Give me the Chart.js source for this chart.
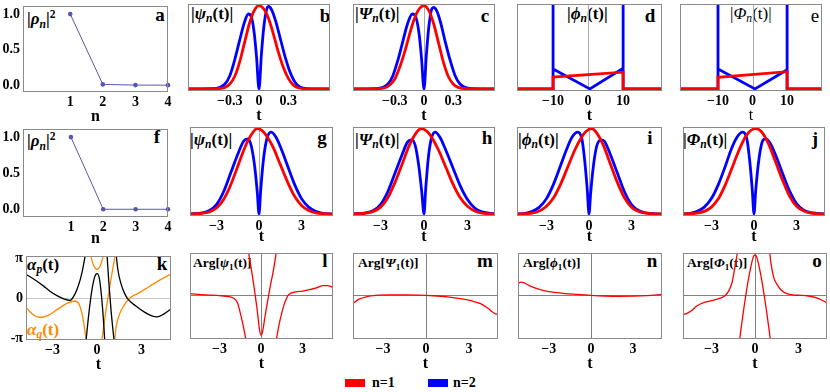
<!DOCTYPE html>
<html lang="en">
<head>
<meta charset="UTF-8">
<title>Mode populations, amplitudes and phases</title>
<script src="https://cdn.jsdelivr.net/npm/chart.js"></script>
<style>
  body { margin: 0; background: #fff; }
  #fig { position: relative; width: 830px; height: 392px; overflow: hidden; font-family: "Liberation Serif", serif; }
  #fig canvas { position: absolute; }
  .lab { position: absolute; font-weight: bold; font-size: 17px; line-height: 1; white-space: nowrap; color: #000; }
  .lab sub { font-size: 0.68em; vertical-align: -0.3em; }
  .lab sup { font-size: 0.68em; vertical-align: 0.55em; }
  .small { font-size: 13.5px; }
  .let { position: absolute; font-weight: bold; font-size: 19px; line-height: 1; transform: translate(-50%, -50%); }
  .thin { font-weight: normal; }
  .key { position: absolute; top: 379px; width: 20px; height: 8px; }
  .keytxt { position: absolute; top: 376px; font-weight: bold; font-size: 14px; line-height: 1; }
</style>
</head>
<body>
<div id="fig">
  <!-- panel titles -->
  <div class="lab" style="left:27px;top:9px">|<i>ρ</i><sub><i>n</i></sub>|<sup>2</sup></div>
  <div class="lab" style="left:191px;top:5px">|<i>ψ</i><sub><i>n</i></sub>(t)|</div>
  <div class="lab" style="left:355px;top:5px">|<i>Ψ</i><sub><i>n</i></sub>(t)|</div>
  <div class="lab" style="left:567px;top:5px">|<i>ϕ</i><sub><i>n</i></sub>(t)|</div>
  <div class="lab thin" style="left:730px;top:5px">|<i>Φ</i><sub><i>n</i></sub>(t)|</div>
  <div class="lab" style="left:27px;top:131px">|<i>ρ</i><sub><i>n</i></sub>|<sup>2</sup></div>
  <div class="lab" style="left:190px;top:131px">|<i>ψ</i><sub><i>n</i></sub>(t)|</div>
  <div class="lab" style="left:355px;top:131px">|<i>Ψ</i><sub><i>n</i></sub>(t)|</div>
  <div class="lab" style="left:518px;top:131px">|<i>ϕ</i><sub><i>n</i></sub>(t)|</div>
  <div class="lab" style="left:683px;top:131px">|<i>Φ</i><sub><i>n</i></sub>(t)|</div>
  <div class="lab" style="left:27px;top:256px"><i>α</i><sub><i>p</i></sub>(t)</div>
  <div class="lab" style="left:27px;top:321px;color:#ff8800"><i>α</i><sub><i>q</i></sub>(t)</div>
  <div class="lab small" style="left:193px;top:256px">Arg[<i>ψ</i><sub>1</sub>(t)]</div>
  <div class="lab small" style="left:358px;top:256px">Arg[<i>Ψ</i><sub>1</sub>(t)]</div>
  <div class="lab small" style="left:523px;top:256px">Arg[<i>ϕ</i><sub>1</sub>(t)]</div>
  <div class="lab small" style="left:687px;top:256px">Arg[<i>Φ</i><sub>1</sub>(t)]</div>

  <!-- panel letters -->
  <div class="let" style="left:160px;top:14px">a</div>
  <div class="let" style="left:325px;top:15px">b</div>
  <div class="let" style="left:485px;top:15px">c</div>
  <div class="let" style="left:650px;top:15px">d</div>
  <div class="let thin" style="left:815px;top:15px">e</div>
  <div class="let" style="left:157px;top:136px">f</div>
  <div class="let" style="left:322px;top:137px">g</div>
  <div class="let" style="left:487px;top:137px">h</div>
  <div class="let" style="left:650px;top:137px">i</div>
  <div class="let" style="left:815px;top:138px">j</div>
  <div class="let" style="left:162px;top:263px">k</div>
  <div class="let" style="left:325px;top:260px">l</div>
  <div class="let" style="left:485px;top:260px">m</div>
  <div class="let" style="left:652px;top:260px">n</div>
  <div class="let" style="left:817px;top:260px">o</div>

  <!-- legend -->
  <div class="key" style="left:345px;background:#ff0000"></div>
  <div class="keytxt" style="left:372px">n=1</div>
  <div class="key" style="left:428px;background:#0000ff"></div>
  <div class="keytxt" style="left:453px">n=2</div>
</div>

<script>
  // ---- data ----
  // populations |rho_n|^2
  var nLevels = [1, 2, 3, 4];
  var rhoA = [1.0, 0.012, 0.002, 0.001];
  var rhoF = [1.0, 0.0, 0.0, 0.0];

  // tick values
  var ticksN = [1, 2, 3, 4];
  var ticksRho = [0, 0.5, 1];
  var ticksNarrow = [-0.3, 0, 0.3];
  var ticksWide = [-10, 0, 10];
  var ticksT = [-3, 0, 3];
  var ticksPhase = [-Math.PI, 0, Math.PI];
  var phaseLabels = ['-π', '0', 'π'];

  // [t, value] pairs, null = break in the curve
  var psiB1 = [[-0.73,0],[-0.45,0.003],[-0.35,0.02],[-0.3,0.06],[-0.25,0.15],[-0.2,0.32],[-0.15,0.55],[-0.1,0.78],[-0.05,0.94],[0,1.0],[0.05,0.96],[0.1,0.84],[0.15,0.65],[0.2,0.44],[0.25,0.26],[0.3,0.13],[0.35,0.05],[0.4,0.015],[0.5,0.002],[0.73,0]];
  var psiB2 = [[-0.73,0],[-0.5,0.003],[-0.4,0.02],[-0.35,0.06],[-0.3,0.16],[-0.25,0.35],[-0.2,0.58],[-0.15,0.8],[-0.11,0.9],[-0.08,0.87],[-0.05,0.68],[-0.025,0.38],[0,0],[0.025,0.42],[0.05,0.75],[0.08,0.96],[0.1,0.99],[0.13,0.95],[0.17,0.82],[0.22,0.6],[0.27,0.38],[0.32,0.2],[0.37,0.08],[0.42,0.025],[0.5,0.005],[0.73,0]];
  var bigPsiC1 = [[-0.73,0],[-0.5,0.003],[-0.4,0.015],[-0.35,0.05],[-0.3,0.12],[-0.25,0.26],[-0.2,0.44],[-0.15,0.65],[-0.1,0.84],[-0.05,0.96],[0,1.0],[0.05,0.94],[0.1,0.78],[0.15,0.55],[0.2,0.32],[0.25,0.15],[0.3,0.06],[0.35,0.02],[0.45,0.003],[0.73,0]];
  var bigPsiC2 = [[-0.73,0],[-0.5,0.004],[-0.42,0.02],[-0.37,0.06],[-0.32,0.16],[-0.27,0.34],[-0.22,0.56],[-0.17,0.78],[-0.12,0.9],[-0.09,0.88],[-0.05,0.66],[-0.025,0.36],[0,0],[0.025,0.42],[0.05,0.75],[0.08,0.96],[0.1,0.98],[0.13,0.94],[0.17,0.8],[0.22,0.56],[0.27,0.34],[0.32,0.16],[0.37,0.06],[0.42,0.02],[0.5,0.004],[0.73,0]];
  var phiD1 = [[-20.3,0],[-10,0],[-10,0.15],[10,0.21],[10,0],[21.1,0]];
  var phiD2 = [[-20.3,0],[-10,0],[-10,1.3],[-10,0.25],[0.5,0],[10,0.26],[10,1.3],[10,0],[21.1,0]];
  var bigPhiE1 = [[-21,0],[-10,0],[-10,0.146],[10,0.216],[10,0],[20.1,0]];
  var bigPhiE2 = [[-21,0],[-10,0],[-10,1.3],[-10,0.25],[0.7,0],[10,0.24],[10,1.3],[10,0],[20.1,0]];

  var psiG1 = [[-4.87,0],[-4,0.008],[-3.5,0.025],[-3,0.07],[-2.5,0.17],[-2,0.34],[-1.5,0.56],[-1,0.78],[-0.5,0.94],[-0.15,1.0],[0.2,0.98],[0.6,0.9],[1,0.78],[1.5,0.58],[2,0.38],[2.5,0.21],[3,0.1],[3.5,0.04],[4,0.012],[4.5,0.003],[5.22,0]];
  var psiG2 = [[-4.87,0],[-4,0.012],[-3.5,0.04],[-3,0.11],[-2.5,0.26],[-2,0.48],[-1.5,0.7],[-1.1,0.85],[-0.8,0.88],[-0.55,0.8],[-0.3,0.55],[-0.12,0.25],[0,0],[0.12,0.28],[0.3,0.62],[0.55,0.88],[0.85,0.96],[1.2,0.9],[1.6,0.75],[2,0.57],[2.5,0.35],[3,0.18],[3.5,0.08],[4,0.03],[4.5,0.008],[5.22,0]];
  var bigPsiH1 = [[-4.9,0],[-4,0.01],[-3.5,0.03],[-3,0.08],[-2.5,0.19],[-2,0.37],[-1.5,0.59],[-1,0.81],[-0.5,0.96],[-0.2,1.0],[0.2,0.97],[0.6,0.88],[1,0.75],[1.5,0.55],[2,0.35],[2.5,0.19],[3,0.09],[3.5,0.035],[4,0.01],[4.9,0]];
  var bigPsiH2 = [[-4.9,0],[-4,0.012],[-3.5,0.04],[-3,0.11],[-2.5,0.26],[-2,0.48],[-1.5,0.7],[-1.15,0.84],[-0.85,0.87],[-0.6,0.8],[-0.35,0.55],[-0.15,0.25],[0,0],[0.12,0.3],[0.3,0.66],[0.5,0.88],[0.77,0.96],[1.1,0.9],[1.5,0.75],[2,0.54],[2.5,0.33],[3,0.17],[3.5,0.07],[4,0.025],[4.9,0]];
  var phiI1 = [[-5.08,0],[-4,0.01],[-3.5,0.035],[-3,0.09],[-2.5,0.19],[-2,0.35],[-1.5,0.55],[-1,0.75],[-0.6,0.88],[-0.2,0.97],[0.2,1.0],[0.5,0.96],[1,0.81],[1.5,0.59],[2,0.37],[2.5,0.19],[3,0.08],[3.5,0.03],[4,0.01],[5.15,0]];
  var phiI2 = [[-5.08,0],[-4.5,0.008],[-4,0.03],[-3.5,0.08],[-3,0.18],[-2.5,0.35],[-2,0.57],[-1.6,0.75],[-1.2,0.9],[-0.8,0.96],[-0.5,0.88],[-0.3,0.62],[-0.12,0.28],[0,0],[0.12,0.25],[0.3,0.55],[0.55,0.8],[0.85,0.87],[1.1,0.85],[1.5,0.7],[2,0.48],[2.5,0.26],[3,0.11],[3.5,0.04],[4,0.012],[5.15,0]];
  var bigPhiJ1 = [[-5,0],[-4,0.01],[-3.5,0.03],[-3,0.08],[-2.5,0.18],[-2,0.35],[-1.5,0.56],[-1,0.77],[-0.5,0.93],[0.1,1.0],[0.5,0.97],[1,0.83],[1.5,0.62],[2,0.4],[2.5,0.21],[3,0.09],[3.5,0.035],[4,0.01],[5,0]];
  var bigPhiJ2 = [[-5,0],[-4.5,0.008],[-4,0.03],[-3.5,0.08],[-3,0.18],[-2.5,0.35],[-2,0.57],[-1.6,0.76],[-1.2,0.9],[-0.8,0.96],[-0.5,0.88],[-0.3,0.62],[-0.12,0.28],[0,0],[0.12,0.27],[0.3,0.58],[0.55,0.83],[0.8,0.88],[1.1,0.84],[1.5,0.7],[2,0.48],[2.5,0.27],[3,0.12],[3.5,0.045],[4,0.015],[5,0]];

  // phases alpha_p (black) and alpha_q (orange), wrapped to (-pi, pi]
  var alphaP = [[-4.8,1.89],[-4.2,1.45],[-3.6,0.95],[-3.2,0.57],[-2.7,0.2],[-2.2,-0.08],[-1.82,-0.17],[-1.5,0.3],[-1.2,1.2],[-1.0,2.1],[-0.85,3.0],[-0.8,3.35],null,
                [-0.74,-3.35],[-0.55,-1.2],[-0.35,0.6],[-0.15,1.7],[0,1.94],[0.15,1.6],[0.3,0.2],[0.45,-2.0],[0.52,-3.35],null,
                [0.68,3.35],[0.8,1.2],[0.95,-1.0],[1.15,-3.35],null,
                [1.3,3.35],[1.4,2.3],[1.6,1.2],[1.85,0.4],[2.1,-0.1],[2.6,-0.6],[3.2,-1.1],[3.7,-1.4],[4.05,-1.47],[4.5,-1.25],[4.99,-0.85]];
  var alphaQ = [[-4.8,-0.72],[-4.3,-1.3],[-3.85,-1.52],[-3.3,-1.35],[-2.7,-0.9],[-2.1,-0.45],[-1.5,-0.22],[-1.2,-0.5],[-1.0,-1.3],[-0.85,-2.3],[-0.72,-3.35],null,
                [-0.42,3.35],[-0.3,2.8],[-0.15,2.4],[0,2.26],[0.15,2.4],[0.3,2.8],[0.42,3.35],null,
                [0.32,-3.35],[0.6,-1.0],[0.9,1.2],[1.22,3.35],null,
                [1.18,-3.35],[1.3,-2.2],[1.5,-1.3],[1.8,-0.6],[2.2,0.0],[2.8,0.4],[3.5,0.9],[4.2,1.4],[4.99,1.9]];

  var argPsi1 = [[-5.13,0.12],[-4,0.03],[-3,-0.02],[-2.3,-0.1],[-2,-0.2],[-1.7,-0.55],[-1.5,-1.3],[-1.3,-2.2],[-1.08,-3.35],null,
                 [-0.92,3.3],[-0.6,1.3],[-0.3,-0.9],[-0.1,-2.6],[0,-2.95],[0.1,-2.75],[0.3,-1.5],[0.6,0.3],[0.9,1.9],[1.12,3.3],null,
                 [1.1,-3.35],[1.3,-2.2],[1.5,-1.3],[1.7,-0.6],[2.0,0.05],[2.5,0.25],[3,0.32],[3.5,0.42],[4,0.55],[4.5,0.72],[4.8,0.72],[5.2,0.6]];
  var argBigPsi1 = [[-5.09,-0.6],[-4.7,-0.3],[-4.2,-0.12],[-3.5,0.0],[-2.5,0.03],[-1.5,0.03],[-0.5,0.02],[0.5,-0.03],[1.5,-0.12],[2.5,-0.27],[3.2,-0.42],[3.8,-0.62],[4.3,-0.95],[4.7,-1.3],[5.02,-1.45]];
  var argPhi1 = [[-5.2,0.87],[-5.0,0.98],[-4.8,0.95],[-4.4,0.72],[-4,0.55],[-3.5,0.38],[-3,0.27],[-2,0.15],[-1,0.07],[0,0.0],[1,-0.05],[2,-0.07],[3,-0.06],[4,-0.02],[5.07,0.07]];
  var argBigPhi1 = [[-4.97,-1.42],[-4.7,-1.35],[-4.4,-1.15],[-4.0,-0.78],[-3.5,-0.52],[-3,-0.4],[-2.5,-0.25],[-2.1,-0.05],[-1.8,0.35],[-1.6,0.9],[-1.45,1.7],[-1.3,2.6],[-1.2,3.35],null,
                    [-1.07,-3.35],[-0.8,-1.2],[-0.5,0.9],[-0.25,2.3],[-0.1,2.9],[0,3.0],[0.1,2.9],[0.25,2.3],[0.5,0.9],[0.8,-1.2],[1.07,-3.35],null,
                    [1.0,3.35],[1.1,2.4],[1.3,1.3],[1.5,0.85],[1.8,0.4],[2.2,0.12],[2.7,0.02],[3.2,0.0],[3.7,-0.05],[4.2,-0.17],[4.6,-0.35],[4.97,-0.57]];

  // ---- drawing ----
  var RED = '#ff0000', BLUE = '#0000ff', BLACK = '#000000', ORANGE = '#ff8800', DOTS = '#5656b0';
  var SERIF = '"Liberation Serif", "DejaVu Serif", serif';
  var TICK_FONT = { family: SERIF, size: 14, weight: 'bold' };

  function pts(rows) {
    var out = [];
    rows.forEach(function (r, i) {
      if (r) out.push({ x: r[0], y: r[1] });
      else out.push({ x: rows[i - 1][0], y: null });
    });
    return out;
  }

  function fmt(v) {
    if (v === 0) return '0';
    return (v < 0 ? '\u2212' : '') + Math.abs(v);
  }

  // gray frame round the plot area, plus optional zero axes
  Chart.register({
    id: 'frame',
    defaults: { zeroX: false, zeroY: false, zeroColor: '#aaaaaa' },
    beforeDatasetsDraw: function (chart, args, o) {
      var ctx = chart.ctx, a = chart.chartArea;
      ctx.save();
      ctx.lineWidth = 1;
      ctx.strokeStyle = o.zeroColor;
      if (o.zeroX) {
        var x = Math.round(chart.scales.x.getPixelForValue(0)) + 0.5;
        ctx.beginPath(); ctx.moveTo(x, a.top); ctx.lineTo(x, a.bottom); ctx.stroke();
      }
      if (o.zeroY) {
        var y = Math.round(chart.scales.y.getPixelForValue(0)) + 0.5;
        ctx.beginPath(); ctx.moveTo(a.left, y); ctx.lineTo(a.right, y); ctx.stroke();
      }
      ctx.restore();
    },
    afterDatasetsDraw: function (chart) {
      var ctx = chart.ctx, a = chart.chartArea;
      ctx.save();
      ctx.strokeStyle = '#8a8a8a';
      ctx.lineWidth = 1;
      ctx.strokeRect(Math.round(a.left) + 0.5, Math.round(a.top) + 0.5,
                     Math.round(a.right - a.left) - 1, Math.round(a.bottom - a.top) - 1);
      ctx.restore();
    }
  });

  function line(rows, color, width, smooth) {
    return {
      data: pts(rows), borderColor: color, backgroundColor: color, borderWidth: width,
      pointRadius: 0, fill: false, spanGaps: false,
      tension: 0, cubicInterpolationMode: smooth ? 'monotone' : 'default'
    };
  }

  function dots(xs, ys) {
    return {
      data: xs.map(function (x, i) { return { x: x, y: ys[i] }; }),
      borderColor: DOTS, backgroundColor: DOTS, borderWidth: 1,
      pointRadius: 2.3, pointBorderWidth: 0, fill: false, tension: 0, clip: 4
    };
  }

  function panel(p) {
    var T = 8, R = 10;
    var L = p.L || 14;
    var w = p.box[2] - p.box[0], h = p.box[3] - p.box[1];
    var cv = document.createElement('canvas');
    cv.width = w + L + R; cv.height = h + T + p.B;
    cv.style.left = (p.box[0] - L) + 'px';
    cv.style.top = (p.box[1] - T) + 'px';
    cv.style.width = cv.width + 'px'; cv.style.height = cv.height + 'px';
    document.getElementById('fig').appendChild(cv);

    var yScale = {
      type: 'linear', min: p.yr[0], max: p.yr[1], display: !!p.yt,
      grid: { display: false, drawTicks: false }, border: { display: false }
    };
    if (p.yt) {
      yScale.ticks = { padding: 3, color: '#000', font: TICK_FONT, callback: p.yFmt };
      yScale.afterBuildTicks = function (s) { s.ticks = p.yt.map(function (v) { return { value: v }; }); };
      yScale.afterFit = function (s) { s.width = L; };
    }

    new Chart(cv, {
      type: 'line',
      data: { datasets: p.sets },
      options: {
        responsive: false, animation: false, events: [],
        layout: { padding: { left: p.yt ? 0 : L, top: T, right: R, bottom: 0 } },
        plugins: { legend: { display: false }, tooltip: { enabled: false },
                   frame: p.frame || {} },
        scales: {
          x: {
            type: 'linear', min: p.xr[0], max: p.xr[1],
            grid: { display: false, drawTicks: false }, border: { display: false },
            ticks: { autoSkip: false, maxRotation: 0, padding: 2, color: '#000', font: TICK_FONT, callback: fmt },
            afterBuildTicks: function (s) { s.ticks = p.xt.map(function (v) { return { value: v }; }); },
            afterFit: function (s) { s.height = p.B; },
            title: { display: true, text: p.xTitle || 't', color: '#000', padding: 0,
                     font: { family: SERIF, size: 16, weight: p.thinTitle ? 'normal' : 'bold' } }
          },
          y: yScale
        }
      }
    });
  }

  var rhoFmt = function (v) { return v.toFixed(1); };
  var phaseFmt = function (v, i) { return phaseLabels[i]; };
  var ampY1 = [-0.024, 1.02], ampY2 = [-0.024, 1.02], wideY = [-0.025, 1.0625], phaseY = [-3.25, 3.15];

  // row 1
  panel({ box: [23, 3, 168, 92], L: 23, B: 34, xr: [-0.45, 4], yr: [-0.095, 1.108], xt: ticksN, yt: ticksRho, yFmt: rhoFmt,
          xTitle: 'n', sets: [dots(nLevels, rhoA)] });
  panel({ box: [188, 4, 330, 91], B: 34, xr: [-0.73, 0.73], yr: ampY1, xt: ticksNarrow,
          sets: [line(psiB1, RED, 2.8, true), line(psiB2, BLUE, 2.8, true)] });
  panel({ box: [353, 4, 495, 91], B: 34, xr: [-0.73, 0.73], yr: ampY1, xt: ticksNarrow, frame: { zeroX: true },
          sets: [line(bigPsiC1, RED, 2.8, true), line(bigPsiC2, BLUE, 2.8, true)] });
  panel({ box: [517, 4, 662, 91], B: 34, xr: [-20.3, 21.1], yr: wideY, xt: ticksWide, frame: { zeroX: true },
          sets: [line(phiD1, RED, 2.8, false), line(phiD2, BLUE, 2.8, false)] });
  panel({ box: [680, 4, 822, 91], B: 34, xr: [-21, 20.1], yr: wideY, xt: ticksWide, frame: { zeroX: true }, thinTitle: true,
          sets: [line(bigPhiE1, RED, 2.8, false), line(bigPhiE2, BLUE, 2.8, false)] });

  // row 2
  panel({ box: [23, 126, 168, 217], L: 23, B: 31, xr: [-0.48, 4], yr: [-0.107, 1.107], xt: ticksN, yt: ticksRho, yFmt: rhoFmt,
          xTitle: 'n', sets: [dots(nLevels, rhoF)] });
  panel({ box: [190, 127, 333, 216], B: 30, xr: [-4.87, 5.22], yr: ampY2, xt: ticksT, frame: { zeroX: true },
          sets: [line(psiG1, RED, 2.8, true), line(psiG2, BLUE, 2.8, true)] });
  panel({ box: [353, 127, 495, 216], B: 30, xr: [-4.9, 4.9], yr: ampY2, xt: ticksT,
          sets: [line(bigPsiH1, RED, 2.8, true), line(bigPsiH2, BLUE, 2.8, true)] });
  panel({ box: [517, 127, 662, 216], B: 30, xr: [-5.08, 5.15], yr: ampY2, xt: ticksT, frame: { zeroX: true },
          sets: [line(phiI1, RED, 2.8, true), line(phiI2, BLUE, 2.8, true)] });
  panel({ box: [683, 127, 825, 216], B: 30, xr: [-5, 5], yr: ampY2, xt: ticksT,
          sets: [line(bigPhiJ1, RED, 2.8, true), line(bigPhiJ2, BLUE, 2.8, true)] });

  // row 3
  panel({ box: [26, 253, 171, 340], L: 26, B: 34, xr: [-4.79, 4.99], yr: [-3.29, 3.29], xt: ticksT, yt: ticksPhase, yFmt: phaseFmt,
          frame: { zeroY: true, zeroColor: '#c8c8c8' },
          sets: [line(alphaP, BLACK, 1.3, true), line(alphaQ, ORANGE, 1.3, true)] });
  panel({ box: [190, 253, 333, 339], B: 34, xr: [-5.13, 5.2], yr: phaseY, xt: ticksT, frame: { zeroX: true, zeroY: true, zeroColor: '#808080' },
          sets: [line(argPsi1, RED, 1.3, true)] });
  panel({ box: [353, 253, 498, 339], B: 34, xr: [-5.09, 5.02], yr: phaseY, xt: ticksT, frame: { zeroX: true, zeroY: true, zeroColor: '#808080' },
          sets: [line(argBigPsi1, RED, 1.3, true)] });
  panel({ box: [518, 253, 662, 339], B: 34, xr: [-5.2, 5.07], yr: phaseY, xt: ticksT, frame: { zeroX: true, zeroY: true, zeroColor: '#808080' },
          sets: [line(argPhi1, RED, 1.3, true)] });
  panel({ box: [683, 253, 827, 339], B: 34, xr: [-4.97, 4.97], yr: phaseY, xt: ticksT, frame: { zeroX: true, zeroY: true, zeroColor: '#808080' },
          sets: [line(argBigPhi1, RED, 1.3, true)] });
</script>
</body>
</html>
